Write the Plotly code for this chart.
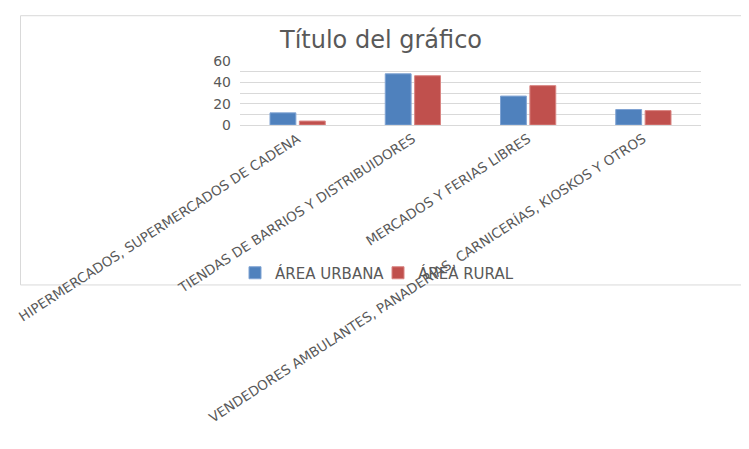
import plotly.graph_objects as go

categorias = [
    "HIPERMERCADOS, SUPERMERCADOS DE CADENA",
    "TIENDAS DE BARRIOS Y DISTRIBUIDORES",
    "MERCADOS Y FERIAS LIBRES",
    "VENDEDORES AMBULANTES, PANADERÍAS, CARNICERÍAS, KIOSKOS Y OTROS",
]
area_urbana = [11.4, 48, 27.1, 14.5]
area_rural = [3.7, 46.2, 36.9, 13.5]
y_ticks = [0, 20, 40, 60]

# page body has an 8px margin, so work in screen pixels minus that
OFF = 8
W, H = 749 - 2 * OFF, 449 - 2 * OFF
# plot area in screen pixels
L, R, T, B = 240 - OFF, 701 - OFF, 61 - OFF, 125.3 - OFF
pw, ph = R - L, B - T


def px_x(x):
    return (x - OFF - L) / pw


def px_y(y):
    return (B - (y - OFF)) / ph


fig = go.Figure()
fig.add_trace(go.Bar(x=categorias, y=area_urbana, name="ÁREA URBANA",
                     marker=dict(color="#4F81BD", line=dict(color="#7FA3D3", width=1))))
fig.add_trace(go.Bar(x=categorias, y=area_rural, name="ÁREA RURAL",
                     marker=dict(color="#C0504D", line=dict(color="#D98482", width=1))))

fig.update_layout(
    width=W, height=H,
    margin=dict(l=L, r=W - R, t=T, b=H - B, autoexpand=False),
    paper_bgcolor="white", plot_bgcolor="white",
    font=dict(family="DejaVu Sans", color="#595959"),
    barmode="group", bargap=0.49, bargroupgap=0.12,
    showlegend=True,
    legend=dict(orientation="h", xref="container", yref="container",
                x=(378 - OFF) / W, xanchor="center",
                y=1 - (273 - OFF) / H, yanchor="middle",
                font=dict(size=15, color="#595959"),
                entrywidth=98, entrywidthmode="pixels",
                bgcolor="rgba(0,0,0,0)", itemwidth=30, tracegroupgap=0),
    annotations=[dict(text="Título del gráfico", xref="paper", yref="paper",
                      x=px_x(380), y=px_y(40), xanchor="center", yanchor="middle",
                      showarrow=False, font=dict(size=24, color="#595959"))],
    shapes=[dict(type="rect", xref="paper", yref="paper",
                 x0=px_x(20.5), x1=px_x(742), y0=px_y(286), y1=px_y(15.5),
                 line=dict(color="#D9D9D9", width=1), layer="below")],
)

fig.update_xaxes(
    tickangle=-33, tickfont=dict(size=13.5, color="#595959"),
    showline=True, linecolor="#D9D9D9", linewidth=1,
    showgrid=False, ticks="", automargin=False,
)
fig.update_yaxes(
    range=[0, 60], tickvals=y_ticks, tickfont=dict(size=14, color="#595959"),
    showgrid=True, gridcolor="#D9D9D9", gridwidth=1,
    minor=dict(dtick=10, showgrid=True, gridcolor="#D9D9D9", gridwidth=1),
    zeroline=False, showline=False, ticks="", ticklabelstandoff=8,
    automargin=False,
)

fig.write_html("out.html")
